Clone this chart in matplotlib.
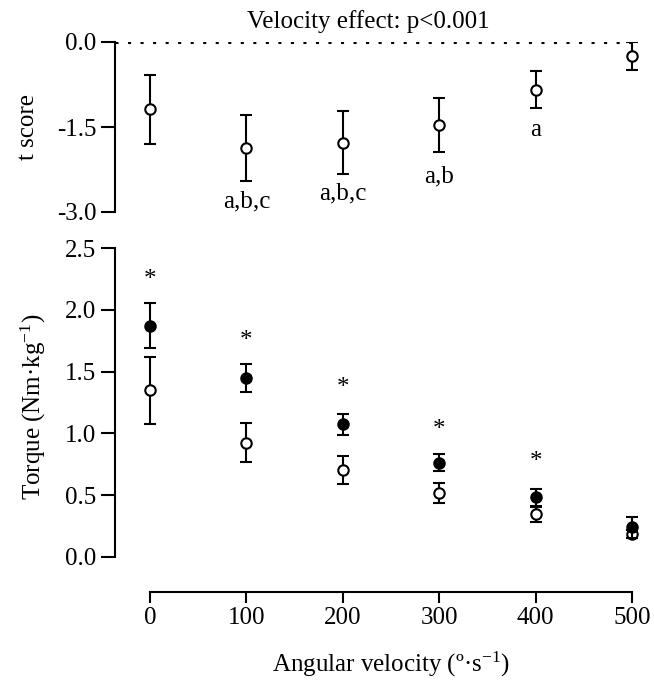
import matplotlib
matplotlib.use("Agg")
import matplotlib.pyplot as plt
import numpy as np

plt.rcParams['font.family'] = ['Liberation Serif', 'DejaVu Serif']
plt.rcParams['mathtext.fontset'] = 'custom'
plt.rcParams['mathtext.rm'] = 'Liberation Serif'
plt.rcParams['mathtext.it'] = 'Liberation Serif:italic'
plt.rcParams['axes.unicode_minus'] = False

# ---- data ----
velocity = [0, 100, 200, 300, 400, 500]

t_score = [-1.19, -1.875, -1.775, -1.465, -0.84, -0.25]
t_err = [0.61, 0.58, 0.56, 0.48, 0.32, 0.245]
sig_labels = ["", "a,b,c", "a,b,c", "a,b", "a", ""]
sig_label_y = [None, -2.81, -2.67, -2.37, -1.56, None]

torque_filled = [1.873, 1.449, 1.073, 0.762, 0.481, 0.238]
torque_filled_err = [0.18, 0.11, 0.085, 0.07, 0.07, 0.085]
torque_open = [1.349, 0.924, 0.703, 0.514, 0.343, 0.184]
torque_open_err = [0.27, 0.16, 0.115, 0.08, 0.06, 0.035]
star_y = [2.24, 1.75, 1.365, 1.027, 0.77, None]

yticks_top = [0.0, -1.5, -3.0]
yticks_top_labels = ["0.0", "-1.5", "-3.0"]
yticks_bot = [0.0, 0.5, 1.0, 1.5, 2.0, 2.5]
yticks_bot_labels = ["0.0", "0.5", "1.0", "1.5", "2.0", "2.5"]
xticks = [0, 100, 200, 300, 400, 500]

# ---- figure ----
W, H = 654, 682
fig = plt.figure(figsize=(W / 100, H / 100), dpi=100)

x_left_px = 115
left = x_left_px / W
width = (640 - x_left_px) / W
ax1 = fig.add_axes([left, 1 - 212 / H, width, (212 - 42) / H])
ax2 = fig.add_axes([left, 1 - 556.7 / H, width, (556.7 - 248.3) / H])

# data x at left spine: 0 -> 150px, 500 -> 632px
ppu = (632 - 150) / 500
xlim = (-(150 - x_left_px) / ppu, (640 - 150) / ppu)
fs = 18
ebkw = dict(capsize=4.2, elinewidth=1.5, capthick=1.5, ecolor='black')

# top panel
ax1.errorbar(velocity, t_score, yerr=t_err, fmt='o', ms=7.5, mfc='white',
             mec='black', mew=1.5, **ebkw, zorder=3)
ax1.plot([xlim[0], 500], [0, 0], linestyle=(0, (1, 3.1)), color='black', lw=2.2, zorder=1)
for x, lab, ly in zip(velocity, sig_labels, sig_label_y):
    if lab:
        ax1.text(x, ly, lab, ha='center', va='center', fontsize=fs)
ax1.set_xlim(*xlim)
ax1.set_ylim(-3.0, 0.0)
ax1.set_yticks(yticks_top)
ax1.set_yticklabels(yticks_top_labels)
ax1.spines['top'].set_visible(False)
ax1.spines['right'].set_visible(False)
ax1.spines['bottom'].set_visible(False)
ax1.set_xticks([])
ax1.spines['left'].set_linewidth(1.5)
ax1.tick_params(axis='y', length=10, width=1.5, labelsize=fs, pad=3.5)
ax1.patch.set_alpha(0)

# bottom panel
ax2.errorbar(velocity, torque_open, yerr=torque_open_err, fmt='o', ms=7.5,
             mfc='white', mec='black', mew=1.5, **ebkw, zorder=3)
ax2.errorbar(velocity, torque_filled, yerr=torque_filled_err, fmt='o', ms=7.5,
             mfc='black', mec='black', mew=1.5, **ebkw, zorder=4)
for x, sy in zip(velocity, star_y):
    if sy is not None:
        ax2.text(x, sy, "*", ha='center', va='center', fontsize=fs)
ax2.set_xlim(*xlim)
ax2.set_ylim(0, 2.5)
ax2.set_yticks(yticks_bot)
ax2.set_yticklabels(yticks_bot_labels)
ax2.set_xticks(xticks)
ax2.set_xticklabels([str(v) for v in xticks])
ax2.spines['top'].set_visible(False)
ax2.spines['right'].set_visible(False)
ax2.spines['bottom'].set_position(('outward', 25.5))
ax2.spines['bottom'].set_bounds(0, 500)
ax2.spines['left'].set_bounds(0, 2.5)
ax2.spines['left'].set_linewidth(1.5)
ax2.spines['bottom'].set_linewidth(1.5)
ax2.tick_params(axis='y', length=10, width=1.5, labelsize=fs, pad=3.5)
ax2.tick_params(axis='x', length=8, width=1.5, labelsize=fs, pad=3)
ax2.patch.set_alpha(0)

# texts
fig.text(368 / W, 1 - 22 / H, "Velocity effect: p<0.001", ha='center', va='center', fontsize=fs)
fig.text(28 / W, 1 - 127 / H, "t score", rotation=90, ha='center', va='center', fontsize=fs)
fig.text(33 / W, 1 - 407 / H, "Torque (Nm·kg$^{\\mathregular{-1}}$)", rotation=90,
         ha='center', va='center', fontsize=fs)
fig.text(391 / W, 1 - 664 / H, "Angular velocity (º·s$^{\\mathregular{-1}}$)",
         ha='center', va='center', fontsize=fs)

fig.savefig("out.png", dpi=100)
